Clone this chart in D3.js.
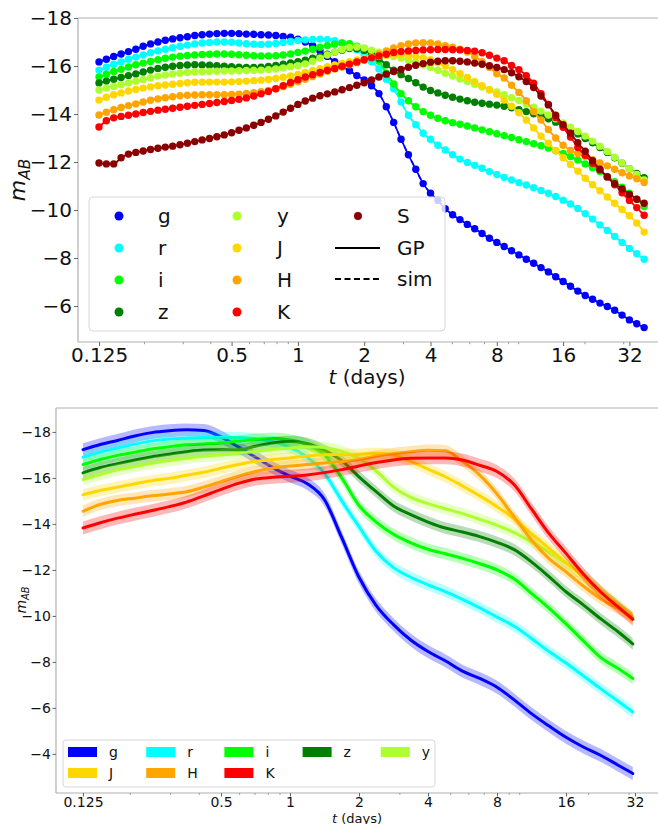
<!DOCTYPE html>
<html><head><meta charset="utf-8">
<script src="https://cdn.jsdelivr.net/npm/d3@7"></script>
<style>body{margin:0;background:#fff;} svg{display:block;font-family:"DejaVu Sans",sans-serif;}</style>
</head><body><svg id="c" width="658" height="824"></svg>
<script>
// ---------- DATA ----------
const bandNames = ["g","r","i","z","y","J","H","K","S"];
const bandColors = ["#0000ff","#00ffff","#00ff00","#008000","#adff2f","#ffd700","#ffa500","#ff0000","#8b0000"];

const xTickVals = [0.125,0.5,1,2,4,8,16,32];
const xTickLabels = ["0.125","0.5","1","2","4","8","16","32"];
const xMinorVals = [0.2,0.3,0.4,0.6,0.7,0.8,0.9,3,5,6,7,9,10,20,30];
const topYTicks = [-18,-16,-14,-12,-10,-8,-6];
const botYTicks = [-18,-16,-14,-12,-10,-8,-6,-4];

const topTimes = [0.1250,0.1350,0.1458,0.1575,0.1701,0.1837,0.1984,0.2143,0.2315,0.2500,
0.2700,0.2916,0.3150,0.3402,0.3674,0.3969,0.4287,0.4630,0.5000,0.5400,
0.5833,0.6300,0.6804,0.7349,0.7937,0.8573,0.9259,1.000,1.080,1.167,
1.260,1.361,1.470,1.587,1.715,1.852,2.000,2.160,2.333,2.520,
2.722,2.940,3.175,3.429,3.704,4.000,4.320,4.666,5.040,5.443,
5.879,6.350,6.858,7.407,8.000,8.640,9.332,10.08,10.89,11.76,
12.70,13.72,14.81,16.00,17.28,18.66,20.16,21.77,23.52,25.40,
27.43,29.63,32.00,34.56,37.33];

const topG = [-16.17,-16.28,-16.40,-16.50,-16.60,-16.70,-16.82,-16.92,-17.00,-17.07,
-17.13,-17.18,-17.22,-17.27,-17.30,-17.33,-17.35,-17.36,-17.36,-17.35,
-17.33,-17.32,-17.30,-17.29,-17.27,-17.23,-17.20,-17.12,-17.00,-16.85,
-16.62,-16.40,-16.18,-15.98,-15.80,-15.60,-15.42,-15.18,-14.85,-14.30,
-13.65,-12.95,-12.30,-11.70,-11.10,-10.70,-10.40,-10.05,-9.80,-9.60,
-9.40,-9.22,-9.02,-8.82,-8.65,-8.48,-8.30,-8.13,-7.95,-7.78,
-7.60,-7.42,-7.22,-7.02,-6.82,-6.62,-6.44,-6.28,-6.12,-5.98,
-5.82,-5.62,-5.42,-5.26,-5.10];
const topR = [-15.83,-15.95,-16.07,-16.17,-16.28,-16.37,-16.46,-16.55,-16.63,-16.70,
-16.76,-16.82,-16.87,-16.92,-16.96,-16.98,-17.00,-17.00,-16.99,-16.96,
-16.93,-16.91,-16.90,-16.91,-16.94,-16.98,-17.02,-17.06,-17.09,-17.11,
-17.12,-17.10,-17.05,-16.97,-16.86,-16.68,-16.45,-16.18,-15.88,-15.45,
-15.05,-14.50,-13.95,-13.55,-13.20,-12.95,-12.70,-12.50,-12.30,-12.12,
-11.98,-11.86,-11.74,-11.60,-11.48,-11.36,-11.25,-11.14,-11.04,-10.93,
-10.81,-10.70,-10.56,-10.41,-10.25,-10.06,-9.85,-9.62,-9.38,-9.15,
-8.90,-8.65,-8.40,-8.18,-7.95];
const topI = [-15.54,-15.66,-15.77,-15.86,-15.96,-16.05,-16.12,-16.19,-16.26,-16.32,
-16.37,-16.41,-16.44,-16.46,-16.48,-16.49,-16.50,-16.50,-16.49,-16.47,
-16.45,-16.43,-16.42,-16.42,-16.43,-16.46,-16.50,-16.56,-16.62,-16.70,
-16.78,-16.85,-16.91,-16.95,-16.93,-16.82,-16.68,-16.52,-16.20,-15.70,
-15.25,-14.85,-14.55,-14.30,-14.10,-13.95,-13.82,-13.72,-13.64,-13.57,
-13.50,-13.42,-13.34,-13.26,-13.18,-13.10,-13.02,-12.93,-12.85,-12.76,
-12.68,-12.58,-12.47,-12.36,-12.23,-12.08,-11.92,-11.76,-11.60,-11.40,
-11.18,-10.95,-10.70,-10.45,-10.15];
const topZ = [-15.29,-15.37,-15.45,-15.52,-15.60,-15.67,-15.75,-15.83,-15.90,-15.95,
-15.99,-16.02,-16.04,-16.05,-16.04,-16.03,-16.01,-15.99,-15.97,-15.95,
-15.94,-15.94,-15.95,-15.98,-16.02,-16.08,-16.13,-16.18,-16.24,-16.32,
-16.40,-16.49,-16.58,-16.66,-16.73,-16.72,-16.65,-16.52,-16.30,-16.05,
-15.82,-15.64,-15.48,-15.30,-15.12,-14.98,-14.88,-14.78,-14.70,-14.62,
-14.55,-14.49,-14.45,-14.41,-14.37,-14.32,-14.26,-14.18,-14.10,-14.01,
-13.92,-13.80,-13.66,-13.52,-13.35,-13.17,-12.98,-12.80,-12.60,-12.40,
-12.18,-11.95,-11.72,-11.52,-11.35];
const topY = [-15.00,-15.08,-15.15,-15.22,-15.29,-15.36,-15.44,-15.51,-15.58,-15.63,
-15.67,-15.70,-15.73,-15.75,-15.76,-15.77,-15.78,-15.79,-15.79,-15.80,
-15.81,-15.82,-15.83,-15.85,-15.88,-15.92,-15.97,-16.01,-16.09,-16.20,
-16.33,-16.46,-16.58,-16.69,-16.77,-16.79,-16.75,-16.66,-16.57,-16.47,
-16.40,-16.33,-16.24,-16.14,-16.04,-15.94,-15.82,-15.70,-15.58,-15.46,
-15.35,-15.24,-15.13,-15.02,-14.92,-14.80,-14.68,-14.56,-14.42,-14.28,
-14.12,-13.96,-13.80,-13.63,-13.45,-13.27,-13.08,-12.87,-12.66,-12.44,
-12.20,-11.96,-11.72,-11.48,-11.25];
const topJ = [-14.58,-14.70,-14.80,-14.88,-14.96,-15.02,-15.08,-15.13,-15.18,-15.21,
-15.24,-15.27,-15.30,-15.32,-15.33,-15.33,-15.33,-15.33,-15.34,-15.35,
-15.37,-15.39,-15.41,-15.44,-15.48,-15.53,-15.59,-15.65,-15.73,-15.81,
-15.89,-15.97,-16.04,-16.11,-16.18,-16.25,-16.31,-16.36,-16.41,-16.44,
-16.46,-16.46,-16.44,-16.40,-16.34,-16.26,-16.14,-16.00,-15.85,-15.68,
-15.52,-15.35,-15.18,-15.00,-14.82,-14.58,-14.32,-14.05,-13.75,-13.42,
-13.08,-12.78,-12.48,-12.18,-11.90,-11.62,-11.32,-11.05,-10.80,-10.54,
-10.28,-10.02,-9.76,-9.46,-9.08];
const topH = [-13.96,-14.07,-14.18,-14.27,-14.35,-14.42,-14.50,-14.57,-14.63,-14.68,
-14.72,-14.76,-14.78,-14.79,-14.80,-14.80,-14.80,-14.80,-14.81,-14.83,
-14.86,-14.89,-14.93,-14.98,-15.05,-15.14,-15.24,-15.34,-15.45,-15.56,
-15.67,-15.78,-15.87,-15.96,-16.05,-16.14,-16.24,-16.36,-16.50,-16.63,
-16.75,-16.85,-16.92,-16.96,-16.97,-16.96,-16.92,-16.85,-16.78,-16.70,
-16.58,-16.40,-16.18,-15.95,-15.68,-15.50,-15.20,-14.90,-14.55,-14.10,
-13.75,-13.35,-13.00,-12.70,-12.48,-12.35,-12.24,-12.10,-11.96,-11.84,
-11.70,-11.55,-11.42,-11.30,-11.15];
const topK = [-13.46,-13.72,-13.84,-13.90,-13.95,-14.00,-14.06,-14.11,-14.16,-14.20,
-14.24,-14.28,-14.32,-14.36,-14.40,-14.44,-14.48,-14.52,-14.56,-14.61,
-14.67,-14.75,-14.84,-14.94,-15.05,-15.18,-15.31,-15.43,-15.54,-15.64,
-15.73,-15.82,-15.90,-15.99,-16.08,-16.17,-16.26,-16.34,-16.42,-16.49,
-16.56,-16.60,-16.63,-16.65,-16.67,-16.68,-16.69,-16.69,-16.68,-16.67,
-16.65,-16.62,-16.55,-16.45,-16.33,-16.22,-16.02,-15.85,-15.60,-15.28,
-14.85,-14.40,-13.85,-13.45,-13.04,-12.60,-12.28,-11.95,-11.67,-11.38,
-11.05,-10.72,-10.40,-10.10,-9.78];
const topS = [-11.96,-11.92,-11.92,-12.18,-12.33,-12.40,-12.46,-12.52,-12.57,-12.62,
-12.66,-12.72,-12.78,-12.85,-12.92,-12.98,-13.05,-13.13,-13.22,-13.32,
-13.42,-13.53,-13.65,-13.78,-13.92,-14.08,-14.24,-14.40,-14.54,-14.66,
-14.76,-14.84,-14.92,-15.01,-15.10,-15.20,-15.30,-15.42,-15.54,-15.66,
-15.77,-15.86,-15.95,-16.03,-16.10,-16.16,-16.20,-16.22,-16.22,-16.20,
-16.17,-16.12,-16.07,-16.01,-15.94,-15.85,-15.72,-15.55,-15.35,-15.10,
-14.75,-14.38,-13.95,-13.55,-13.20,-12.80,-12.45,-12.05,-11.70,-11.38,
-11.10,-10.88,-10.65,-10.45,-10.28];

const botTimes = [0.125,0.1487,0.1768,0.2102,0.25,0.2973,0.3536,0.4204,0.5,0.5946,
0.7071,0.8409,1,1.189,1.414,1.682,2,2.378,2.828,3.364,
4,4.757,5.657,6.727,8,9.514,11.31,13.45,16,19.03,
22.63,26.91,31.3];
const botG = [-17.23,-17.45,-17.63,-17.82,-17.97,-18.05,-18.09,-18.06,-17.78,-17.35,
-16.90,-16.45,-16.08,-15.75,-15.05,-13.40,-11.68,-10.45,-9.62,-8.95,
-8.45,-8.05,-7.60,-7.28,-6.90,-6.35,-5.75,-5.22,-4.72,-4.30,
-3.94,-3.52,-3.15];
const botR = [-16.90,-17.12,-17.30,-17.47,-17.61,-17.69,-17.73,-17.76,-17.77,-17.75,
-17.70,-17.57,-17.33,-16.90,-16.20,-15.00,-13.88,-12.80,-12.10,-11.68,
-11.35,-11.06,-10.72,-10.35,-9.95,-9.55,-9.02,-8.46,-7.95,-7.40,
-6.84,-6.30,-5.82];
const botI = [-16.58,-16.80,-16.98,-17.12,-17.26,-17.36,-17.44,-17.48,-17.52,-17.60,
-17.67,-17.73,-17.65,-17.45,-17.00,-16.00,-14.80,-14.08,-13.55,-13.18,
-12.90,-12.70,-12.50,-12.27,-12.00,-11.60,-10.98,-10.35,-9.65,-8.92,
-8.20,-7.72,-7.28];
const botZ = [-16.22,-16.45,-16.62,-16.78,-16.92,-17.03,-17.14,-17.21,-17.22,-17.22,
-17.38,-17.52,-17.58,-17.50,-17.20,-16.75,-16.05,-15.40,-14.78,-14.40,
-14.08,-13.82,-13.65,-13.45,-13.20,-12.88,-12.35,-11.72,-11.05,-10.48,
-9.88,-9.32,-8.78];
const botY = [-15.93,-16.15,-16.35,-16.50,-16.64,-16.76,-16.86,-16.94,-17.00,-17.08,
-17.15,-17.24,-17.30,-17.36,-17.32,-17.15,-16.85,-16.30,-15.60,-15.15,
-14.88,-14.66,-14.45,-14.20,-13.94,-13.62,-13.22,-12.78,-12.28,-11.72,
-11.12,-10.52,-9.95];
const botJ = [-15.27,-15.45,-15.60,-15.75,-15.88,-15.98,-16.12,-16.25,-16.42,-16.58,
-16.72,-16.80,-16.87,-16.95,-17.01,-17.02,-17.03,-17.07,-17.00,-16.72,
-16.38,-16.05,-15.65,-15.22,-14.75,-14.22,-13.58,-12.95,-12.32,-11.70,
-11.02,-10.42,-9.85];
const botH = [-14.55,-14.85,-15.02,-15.12,-15.22,-15.30,-15.40,-15.60,-15.84,-16.08,
-16.28,-16.43,-16.52,-16.58,-16.65,-16.70,-16.80,-16.95,-17.06,-17.14,
-17.20,-17.18,-16.72,-16.12,-15.30,-14.30,-13.30,-12.50,-11.92,-11.30,
-10.75,-10.32,-9.95];
const botK = [-13.82,-14.05,-14.25,-14.42,-14.58,-14.75,-14.95,-15.22,-15.50,-15.76,
-15.95,-16.03,-16.07,-16.13,-16.23,-16.36,-16.52,-16.67,-16.78,-16.85,
-16.87,-16.87,-16.78,-16.55,-16.28,-15.70,-14.65,-13.60,-12.72,-11.82,
-11.05,-10.40,-9.85];
const botSigma = [0.28,0.25,0.25,0.25,0.25,0.25,0.25,0.28];

// ---------- DRAW ----------
const svg = d3.select("#c");
const topSeries = [topG,topR,topI,topZ,topY,topJ,topH,topK,topS];
const botSeries = [botG,botR,botI,botZ,botY,botJ,botH,botK];
const fmtMinus = d => (d < 0 ? "\u2212" : "") + Math.abs(d);

function drawFrame(x, y, L, R, T, B, yTicks, fs, tl, padX, padY) {
  const g = svg.append("g");
  g.append("line").attr("x1",L).attr("x2",L).attr("y1",T).attr("y2",B).attr("stroke","#b0b0b0").attr("stroke-width",1.2);
  g.append("line").attr("x1",L).attr("x2",R).attr("y1",T).attr("y2",T).attr("stroke","#b0b0b0").attr("stroke-width",1.2);
  g.append("line").attr("x1",L).attr("x2",R).attr("y1",B).attr("y2",B).attr("stroke","#b0b0b0").attr("stroke-width",1.2);
  const ax = g.append("g").attr("transform",`translate(0,${B})`)
    .call(d3.axisBottom(x).tickValues(xTickVals).tickFormat((d,i)=>xTickLabels[i]).tickSize(tl).tickPadding(padX));
  ax.select(".domain").remove();
  ax.selectAll("line").attr("stroke","#666");
  ax.selectAll("text").attr("font-size",fs).attr("font-family","DejaVu Sans").attr("fill","#111");
  const am = g.append("g").attr("transform",`translate(0,${B})`)
    .call(d3.axisBottom(x).tickValues(xMinorVals).tickFormat(()=>"").tickSize(tl*0.55));
  am.select(".domain").remove();
  am.selectAll("line").attr("stroke","#999");
  const ay = g.append("g").attr("transform",`translate(${L},0)`)
    .call(d3.axisLeft(y).tickValues(yTicks).tickFormat(fmtMinus).tickSize(tl).tickPadding(padY));
  ay.select(".domain").remove();
  ay.selectAll("line").attr("stroke","#666");
  ay.selectAll("text").attr("font-size",fs).attr("font-family","DejaVu Sans").attr("fill","#111");
}

function mLabel(bx, cy, fs) {
  const g = svg.append("g").attr("transform",`translate(${bx},${cy}) rotate(-90)`);
  const sub = fs*0.7;
  const wm = fs*0.974, wab = sub*1.37;
  const x0 = -(wm + wab)/2;
  g.append("text").attr("x",x0).attr("y",0).attr("font-size",fs).attr("font-style","italic").attr("fill","#111").text("m");
  g.append("text").attr("x",x0+wm).attr("y",fs*0.22).attr("font-size",sub).attr("font-style","italic").attr("fill","#111").text("AB");
}
function tLabel(x, y, fs) {
  const t = svg.append("text").attr("x",x).attr("y",y).attr("text-anchor","middle").attr("font-size",fs).attr("fill","#111");
  t.append("tspan").attr("font-style","italic").text("t");
  t.append("tspan").text(" (days)");
}

// ===== TOP PANEL =====
const xT = d3.scaleLog().base(2).domain([0.125,32]).range([99,629.4]);
const yT = d3.scaleLinear().domain([-18,-4.5]).range([18,342]);
drawFrame(xT, yT, 78, 658, 18, 342, topYTicks, 20, 4, 1.5, 2);

const lineT = d3.line().x(d=>xT(d[0])).y(d=>yT(d[1])).curve(d3.curveMonotoneX);
const gTop = svg.append("g");
topSeries.forEach((vals, si) => {
  const pts = topTimes.map((t,i)=>[t, vals[i]]);
  const c = bandColors[si];
  gTop.append("g").selectAll("circle").data(pts).join("circle")
    .attr("cx",d=>xT(d[0])).attr("cy",d=>yT(d[1])).attr("r",3.7).attr("fill",c);
  gTop.append("path").datum(pts).attr("d",lineT).attr("fill","none").attr("stroke",c).attr("stroke-width",1.6);
  gTop.append("path").datum(pts).attr("d",lineT).attr("fill","none").attr("stroke",c).attr("stroke-width",1.6)
    .attr("stroke-dasharray","5,3");
});

const lgT = svg.append("g");
lgT.append("rect").attr("x",89).attr("y",197).attr("width",356).attr("height",134).attr("rx",4)
  .attr("fill","#fff").attr("fill-opacity",0.8).attr("stroke","#d6d6d6");
bandNames.forEach((n,i) => {
  const col = Math.floor(i/4), row = i%4;
  const mx = [119,237,358][col], tx = [158,277,397][col];
  const yy = 216 + row*32;
  lgT.append("circle").attr("cx",mx).attr("cy",yy).attr("r", i===8 ? 4 : 4.5).attr("fill",bandColors[i]);
  lgT.append("text").attr("x",tx).attr("y",yy+7).attr("font-size",20).attr("fill","#111").text(n);
});
lgT.append("line").attr("x1",335).attr("x2",380).attr("y1",248).attr("y2",248).attr("stroke","#000").attr("stroke-width",2);
lgT.append("text").attr("x",397).attr("y",255).attr("font-size",20).attr("fill","#111").text("GP");
lgT.append("line").attr("x1",335).attr("x2",380).attr("y1",279).attr("y2",279).attr("stroke","#000").attr("stroke-width",2).attr("stroke-dasharray","6,3.5");
lgT.append("text").attr("x",397).attr("y",286).attr("font-size",20).attr("fill","#111").text("sim");

mLabel(25, 180, 22);
tLabel(367, 384, 20);

// ===== BOTTOM PANEL =====
const xB = d3.scaleLog().base(2).domain([0.125,32]).range([83,635]);
const yB = d3.scaleLinear().domain([-19.04,-2.3]).range([408,793]);
drawFrame(xB, yB, 56, 658, 408, 793, botYTicks, 14, 3.5, 1, 1.5);

const lineB = d3.line().x(d=>xB(d[0])).y(d=>yB(d[1])).curve(d3.curveMonotoneX);
const areaB = d3.area().x(d=>xB(d[0])).y0(d=>yB(d[1]-d[2])).y1(d=>yB(d[1]+d[2])).curve(d3.curveMonotoneX);
const gBot = svg.append("g");
botSeries.forEach((vals, si) => {
  const s = botSigma[si];
  const pts = botTimes.map((t,i)=>[t, vals[i], s]);
  const c = bandColors[si];
  gBot.append("path").datum(pts).attr("d",areaB).attr("fill",c).attr("fill-opacity",0.28).attr("stroke","none");
  gBot.append("path").datum(pts).attr("d",lineB).attr("fill","none").attr("stroke",c).attr("stroke-width",3)
    .attr("stroke-linecap","round");
});

const lgB = svg.append("g");
lgB.append("rect").attr("x",63).attr("y",740).attr("width",372).attr("height",47).attr("rx",3)
  .attr("fill","#fff").attr("fill-opacity",0.8).attr("stroke","#d6d6d6");
[0,1,2,3,4,5,6,7].forEach((si,i) => {
  const col = i<5 ? i : i-5, row = i<5 ? 0 : 1;
  const px = 68 + col*78.2, yy = 752 + row*21;
  lgB.append("rect").attr("x",px).attr("y",yy-5).attr("width",29).attr("height",10).attr("fill",bandColors[si]);
  lgB.append("text").attr("x",px+41).attr("y",yy+5).attr("font-size",14).attr("fill","#111").text(bandNames[si]);
});

mLabel(26, 600, 14);
tLabel(357, 822.5, 13);
</script></body></html>
